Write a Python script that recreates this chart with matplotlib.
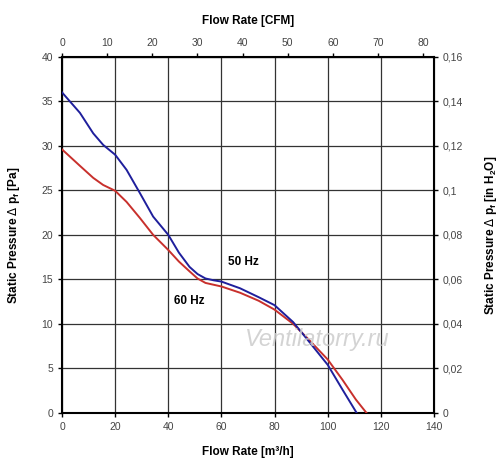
import matplotlib
matplotlib.use("Agg")
import matplotlib.pyplot as plt
from matplotlib.ticker import FuncFormatter, MultipleLocator

plt.rcParams["font.family"] = ["Liberation Sans", "DejaVu Sans"]

# Kennlinie 50 Hz (blau)
flow_50 = [0, 6.75, 11.75, 15.5, 20, 24.3, 29.3, 34.3, 40, 44, 48, 51, 54, 57, 60, 67, 74, 80, 87, 93, 100, 105.6, 110.9]
pres_50 = [36, 33.7, 31.4, 30.1, 29.0, 27.3, 24.7, 22.05, 20, 18.0, 16.4, 15.6, 15.1, 14.9, 14.75, 14.0, 13.0, 12.1, 10.2, 8.0, 5.4, 2.6, 0]

# Kennlinie 60 Hz (rot)
flow_60 = [0, 6.75, 11.75, 15.5, 20, 24.3, 29.3, 34.3, 40, 44, 48, 51, 54, 57, 60, 67, 74, 80, 87, 93, 100, 105.6, 110.6, 114.6]
pres_60 = [29.6, 27.75, 26.4, 25.6, 24.95, 23.7, 21.9, 20.0, 18.3, 17.0, 15.9, 15.1, 14.6, 14.4, 14.2, 13.5, 12.6, 11.6, 10.0, 8.2, 6.0, 3.7, 1.5, 0]

labels = ["50 Hz", "60 Hz"]

M3H_PER_CFM = 1.699
PA_PER_INH2O = 250.0

fig = plt.figure(figsize=(5.0, 4.73), dpi=100)
ax = fig.add_axes([0.124, 0.127, 0.744, 0.753])

ax.plot(flow_50, pres_50, color="#1f1f9c", linewidth=1.4, zorder=4)
ax.plot(flow_60, pres_60, color="#c8302c", linewidth=1.4, zorder=3)

ax.set_xlim(0, 140)
ax.set_ylim(0, 40)
ax.xaxis.set_major_locator(MultipleLocator(20))
ax.yaxis.set_major_locator(MultipleLocator(5))
ax.grid(True, color="#333333", linewidth=0.9)
ax.set_axisbelow(True)

for s in ax.spines.values():
    s.set_linewidth(1.5)
    s.set_color("black")

tick_kw = dict(labelsize=7.5, labelcolor="#444444", length=3, width=1, direction="out")
ax.tick_params(**tick_kw)

# Beschriftungen der Kurven
ax.text(68.3, 17.0, labels[0], fontsize=8.5, fontweight="bold", ha="center", va="center")
ax.text(47.8, 12.6, labels[1], fontsize=8.5, fontweight="bold", ha="center", va="center")

# Wasserzeichen
ax.text(96, 8.3, "Ventilatorry.ru", fontsize=17, style="italic", color="#cccccc",
        alpha=0.85, ha="center", va="center", zorder=5)

ax.set_xlabel("Flow Rate [m³/h]", fontsize=8.5, fontweight="bold", labelpad=10)
ax.set_ylabel(r"Static Pressure $\Delta$ p$_\mathregular{f}$ [Pa]", fontsize=8.5,
              fontweight="bold", labelpad=14)

# obere Achse CFM
top = ax.secondary_xaxis("top", functions=(lambda x: x / M3H_PER_CFM, lambda x: x * M3H_PER_CFM))
top.xaxis.set_major_locator(MultipleLocator(10))
top.tick_params(**tick_kw)
top.set_xlabel("Flow Rate [CFM]", fontsize=8.5, fontweight="bold", labelpad=10)

# rechte Achse in H2O
right = ax.secondary_yaxis("right", functions=(lambda y: y / PA_PER_INH2O, lambda y: y * PA_PER_INH2O))
right.yaxis.set_major_locator(MultipleLocator(0.02))
right.yaxis.set_major_formatter(FuncFormatter(lambda v, p: f"{round(v, 3):g}".replace(".", ",")))
right.tick_params(**tick_kw)
right.set_ylabel(r"Static Pressure $\Delta$ p$_\mathregular{f}$ [in H$_\mathregular{2}$O]",
                 fontsize=8.5, fontweight="bold", labelpad=14)

fig.savefig("out.png", dpi=100, facecolor="white")
